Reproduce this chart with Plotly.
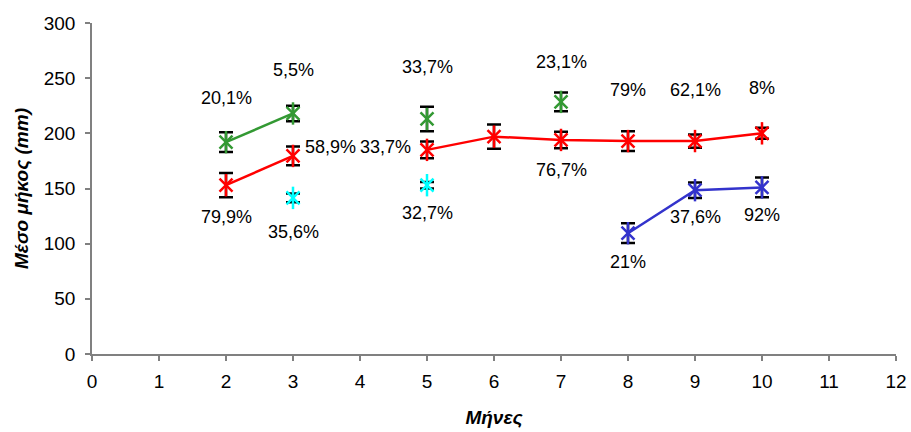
import plotly.graph_objects as go

# Data (x = month)
red_x = [2, 3, None, 5, 6, 7, 8, 9, 10]
red_y = [153, 179.5, None, 185, 197, 194, 193, 193, 200]
red_err = [11, 8.5, None, 7.5, 11, 7.5, 9, 6, 5]

green_x = [2, 3, None, 5, None, 7]
green_y = [192, 218, None, 213, None, 228.5]
green_err = [9, 7, None, 11, None, 8.5]

cyan_x = [3, None, 5]
cyan_y = [141.5, None, 153]
cyan_err = [4, None, 3]

blue_x = [8, 9, 10]
blue_y = [109.5, 148.5, 151]
blue_err = [9, 7, 9]

label_text = ["20,1%", "5,5%", "33,7%", "23,1%", "79%", "62,1%", "8%",
              "58,9%", "33,7%", "79,9%", "35,6%", "32,7%", "76,7%",
              "21%", "37,6%", "92%"]
label_x = [2, 3, 5, 7, 8, 9, 10, 3, 5, 2, 3, 5, 7, 8, 9, 10]
label_y = [232, 257, 260, 265, 239, 239, 241, 188, 188, 124, 111, 128, 167, 83, 124, 126]
label_anchor = ["center"] * 7 + ["left", "right"] + ["center"] * 7
label_dx = [0, 0, 0, 0, 0, 0, 0, 10, -14, 0, 0, 0, 0, 0, 0, 0]

FONT = "Liberation Sans, Arial, sans-serif"

fig = go.Figure()

def add_series(xs, ys, errs, color):
    fig.add_trace(go.Scatter(
        x=xs, y=ys, mode="lines+markers",
        line=dict(color=color, width=2.5),
        marker=dict(symbol="x-thin-open", size=13, color=color,
                    line=dict(color=color, width=2.5)),
        error_y=dict(type="data", array=errs, visible=True, color="black",
                     thickness=2.5, width=7),
        connectgaps=False, showlegend=False, hoverinfo="skip",
    ))
    fig.add_trace(go.Scatter(
        x=xs, y=ys, mode="markers",
        marker=dict(symbol="line-ns-open", size=16, color=color,
                    line=dict(color=color, width=2.5)),
        showlegend=False, hoverinfo="skip",
    ))

add_series(green_x, green_y, green_err, "#339933")
add_series(red_x, red_y, red_err, "#ff0000")
add_series(cyan_x, cyan_y, cyan_err, "#00ffff")
add_series(blue_x, blue_y, blue_err, "#3333cc")

for t, x, y, a, dx in zip(label_text, label_x, label_y, label_anchor, label_dx):
    fig.add_annotation(x=x, y=y, text=t, showarrow=False, xshift=dx, xanchor=a,
                       font=dict(family=FONT, size=18, color="black"))

fig.update_layout(
    width=911, height=432,
    margin=dict(l=92, r=15, t=23, b=78),
    paper_bgcolor="white", plot_bgcolor="white",
    font=dict(family=FONT, size=18, color="black"),
)
fig.update_xaxes(
    range=[0, 12], dtick=1, tick0=0, showgrid=False, zeroline=False,
    showline=True, linecolor="#808080", linewidth=1.5, automargin=False,
    ticks="outside", ticklen=5, tickcolor="#808080", tickwidth=1.5,
    ticklabelstandoff=4,
    tickfont=dict(family=FONT, size=19),
    title=dict(text="<b><i>Μήνες</i></b>", font=dict(family=FONT, size=19), standoff=20),
)
fig.update_yaxes(
    range=[0, 300], dtick=50, tick0=0, showgrid=False, zeroline=False,
    showline=True, linecolor="#808080", linewidth=1.5, automargin=False,
    ticks="outside", ticklen=5, tickcolor="#808080", tickwidth=1.5,
    ticklabelstandoff=6,
    tickfont=dict(family=FONT, size=19),
    title=dict(text="<b><i>Μέσο μήκος (mm)</i></b>", font=dict(family=FONT, size=19), standoff=10),
)

fig.write_html("out.html", config={"displayModeBar": False},
               post_script="document.body.style.margin='0';document.body.style.overflow='hidden';")
